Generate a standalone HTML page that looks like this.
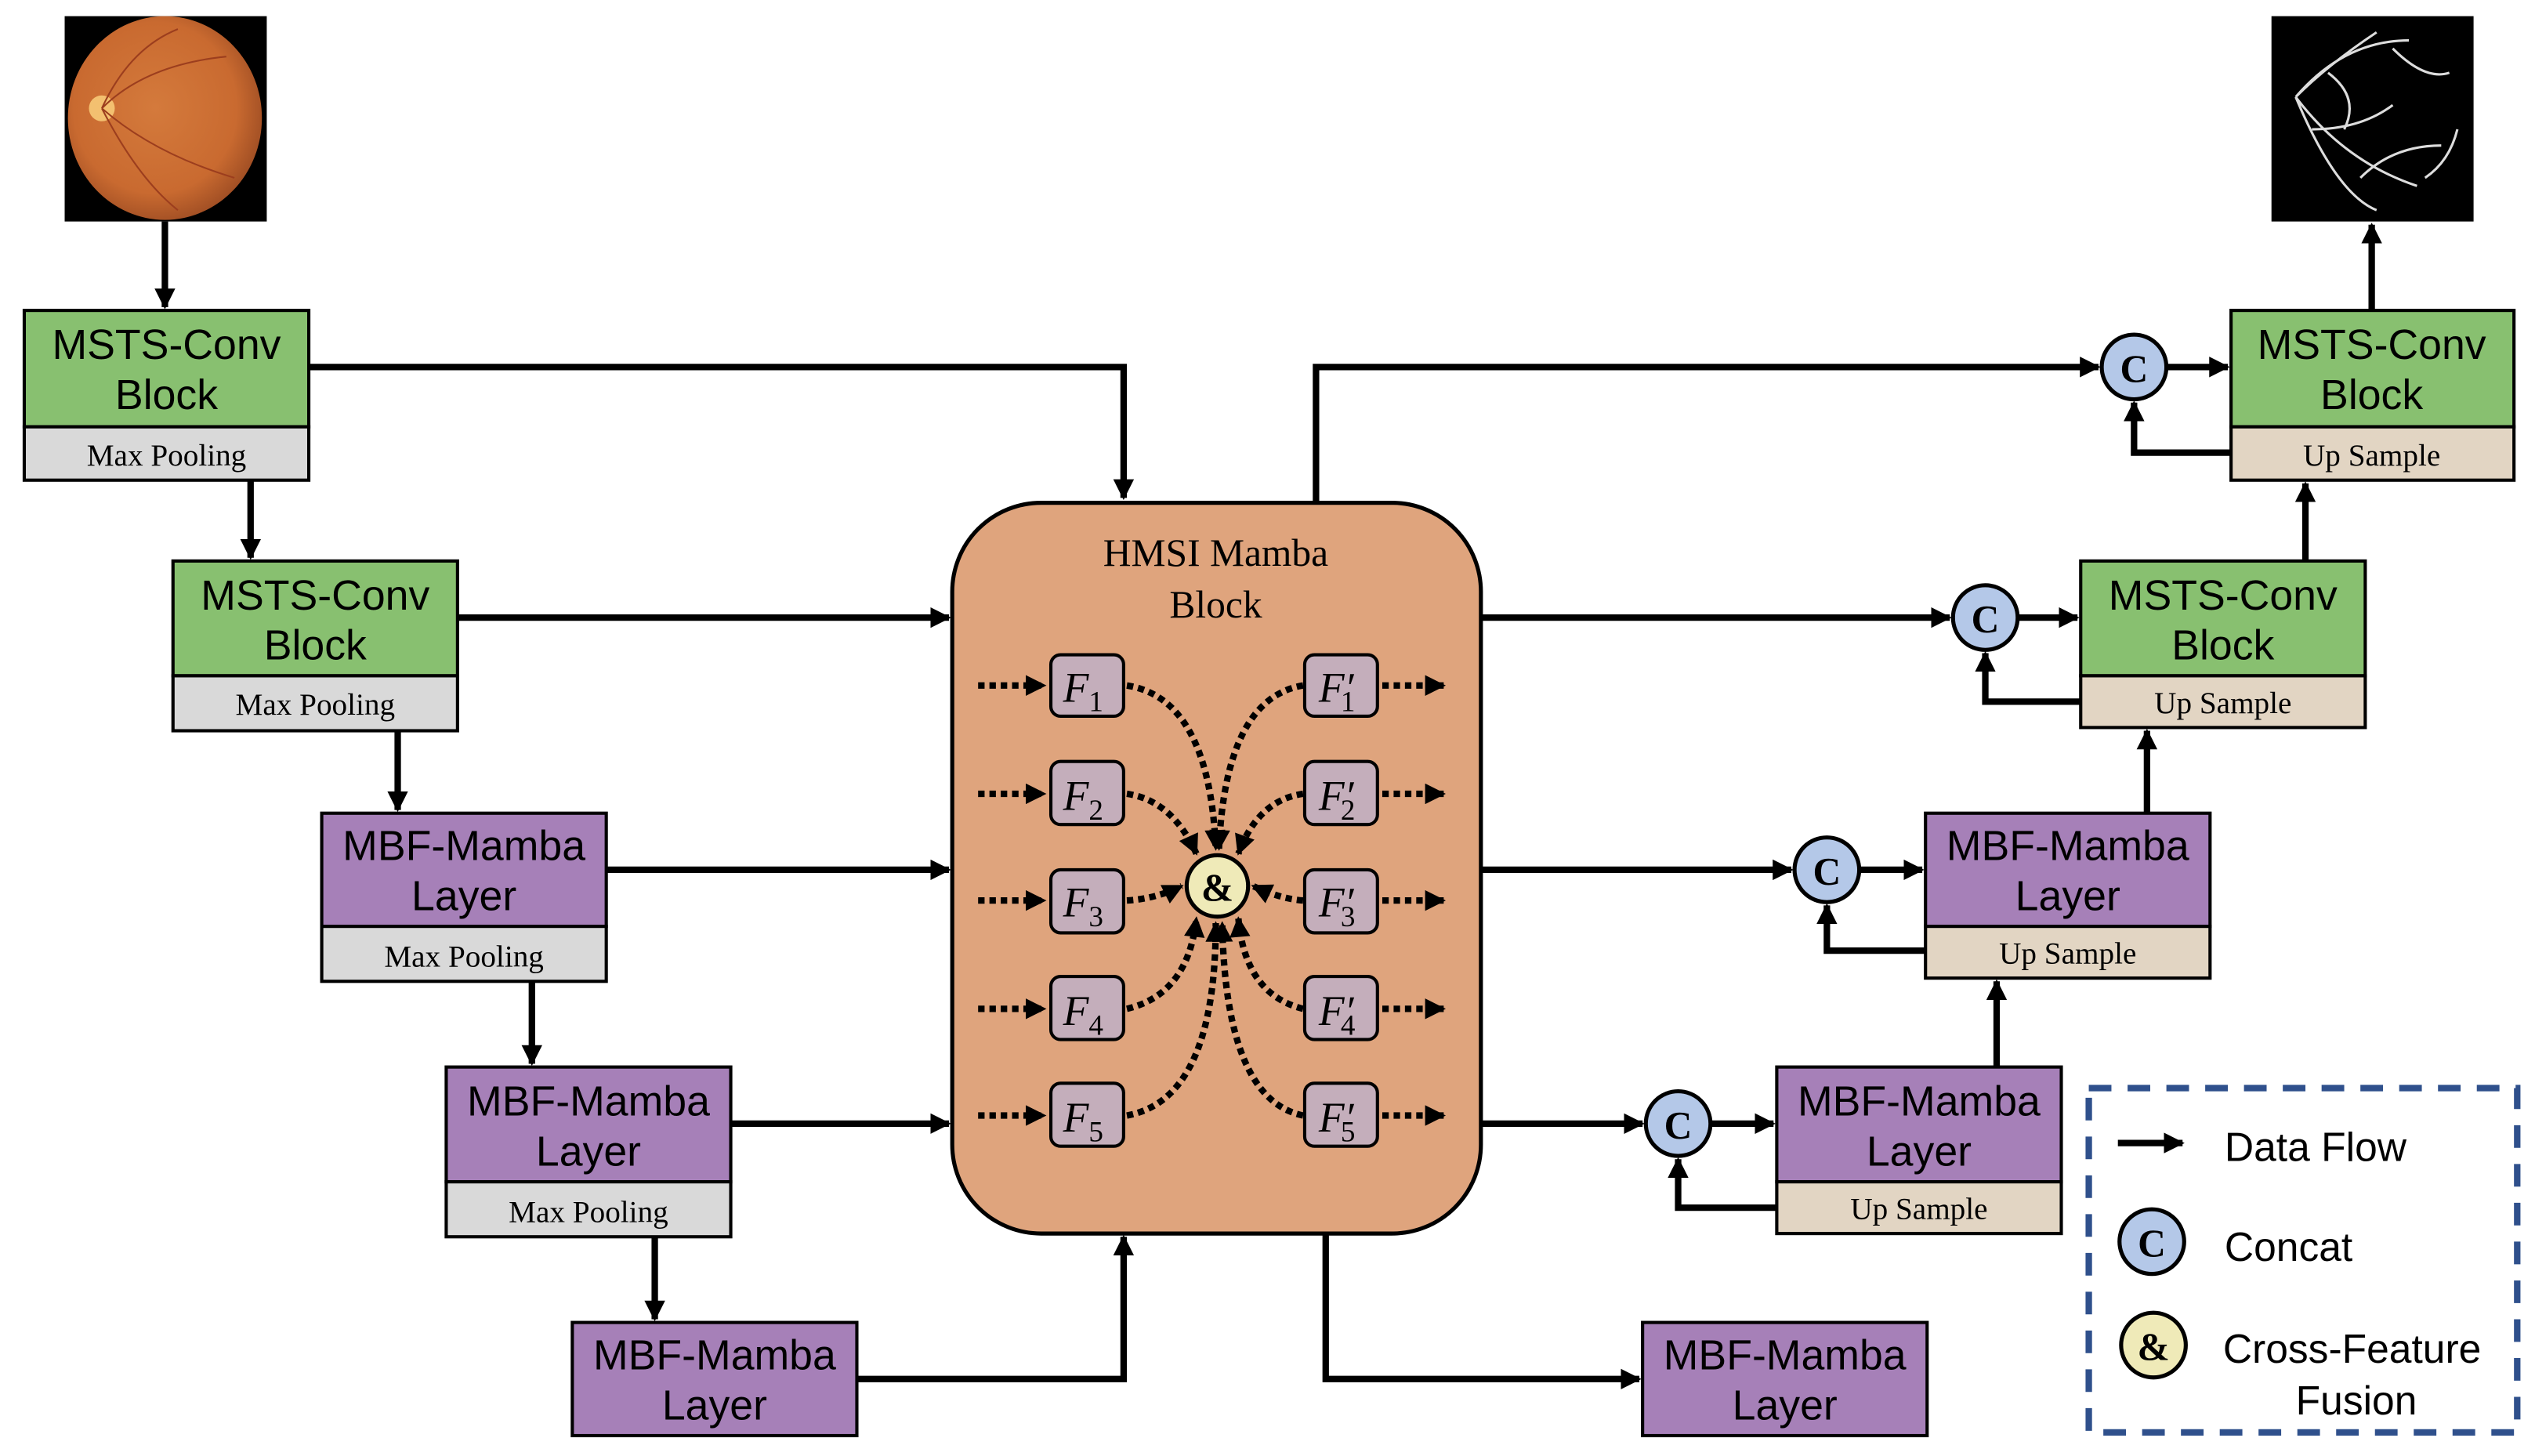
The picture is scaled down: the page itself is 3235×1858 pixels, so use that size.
<!DOCTYPE html>
<html><head><meta charset="utf-8"><style>html,body{margin:0;padding:0;background:#fff}svg{display:block}</style></head>
<body>
<svg width="3235" height="1858" viewBox="0 0 1568 900.6" preserveAspectRatio="none" xmlns="http://www.w3.org/2000/svg">
<defs>
<marker id="a" viewBox="0 0 10 10" refX="9" refY="5" markerWidth="3.2" markerHeight="3.2" orient="auto" markerUnits="strokeWidth"><path d="M0,0L10,5L0,10z" fill="#000"/></marker>
<marker id="d" viewBox="0 0 10 10" refX="9" refY="5" markerWidth="3.6" markerHeight="3.2" orient="auto" markerUnits="strokeWidth"><path d="M0,0L10,5L0,10z" fill="#000"/></marker>
<radialGradient id="eye" cx="0.45" cy="0.45" r="0.6"><stop offset="0" stop-color="#d47a3c"/><stop offset="0.7" stop-color="#c96a30"/><stop offset="1" stop-color="#9a4a22"/></radialGradient>
</defs>
<style>
.t{font-family:"Liberation Sans",sans-serif;font-size:26px;text-anchor:middle}
.s{font-family:"Liberation Serif",serif;font-size:19px;text-anchor:middle}
.b{stroke:#000;stroke-width:2}
.l{stroke:#000;stroke-width:4;fill:none}
.dl{stroke:#000;stroke-width:4;fill:none;stroke-dasharray:4 3}
.f{font-family:"Liberation Serif",serif;font-style:italic;font-size:26px;text-anchor:middle}
</style>
<!-- fundus -->
<rect x="40" y="10" width="125" height="127" fill="#000"/>
<ellipse cx="102" cy="73" rx="60" ry="63" fill="url(#eye)"/>
<circle cx="63" cy="67" r="8" fill="#f3c070"/>
<path d="M63,67 Q90,40 140,35 M63,67 Q95,95 145,110 M63,67 Q80,30 110,18 M63,67 Q85,110 110,130" stroke="#9c3e1e" stroke-width="1" fill="none"/>
<!-- vessel image -->
<rect x="1405" y="10" width="125" height="127" fill="#000"/>
<g stroke="#ddd" stroke-width="1.5" fill="none">
<path d="M1420,60 Q1450,25 1490,25 M1420,60 Q1450,100 1495,115 M1420,60 Q1440,40 1470,20 M1420,60 Q1445,120 1470,130 M1440,45 Q1460,60 1450,80 M1460,110 Q1480,90 1510,90 M1480,30 Q1500,50 1515,45 M1430,80 Q1460,80 1480,65 M1500,110 Q1515,100 1520,80"/>
</g>
<!-- left boxes -->
<rect class="b" x="15" y="192" width="176" height="72" fill="#88c070"/>
<rect class="b" x="15" y="264" width="176" height="33" fill="#d9d9d9"/>
<text class="t" x="103" y="222">MSTS-Conv</text><text class="t" x="103" y="253">Block</text>
<text class="s" x="103" y="288">Max Pooling</text>

<rect class="b" x="107" y="347" width="176" height="71" fill="#88c070"/>
<rect class="b" x="107" y="418" width="176" height="34" fill="#d9d9d9"/>
<text class="t" x="195" y="377">MSTS-Conv</text><text class="t" x="195" y="408">Block</text>
<text class="s" x="195" y="442">Max Pooling</text>

<rect class="b" x="199" y="503" width="176" height="70" fill="#a680b8"/>
<rect class="b" x="199" y="573" width="176" height="34" fill="#d9d9d9"/>
<text class="t" x="287" y="532">MBF-Mamba</text><text class="t" x="287" y="563">Layer</text>
<text class="s" x="287" y="598">Max Pooling</text>

<rect class="b" x="276" y="660" width="176" height="71" fill="#a680b8"/>
<rect class="b" x="276" y="731" width="176" height="34" fill="#d9d9d9"/>
<text class="t" x="364" y="690">MBF-Mamba</text><text class="t" x="364" y="721">Layer</text>
<text class="s" x="364" y="756">Max Pooling</text>

<rect class="b" x="354" y="818" width="176" height="70" fill="#a680b8"/>
<text class="t" x="442" y="847">MBF-Mamba</text><text class="t" x="442" y="878">Layer</text>

<!-- right boxes -->
<rect class="b" x="1380" y="192" width="175" height="72" fill="#88c070"/>
<rect class="b" x="1380" y="264" width="175" height="33" fill="#e2d5c3"/>
<text class="t" x="1467" y="222">MSTS-Conv</text><text class="t" x="1467" y="253">Block</text>
<text class="s" x="1467" y="288">Up Sample</text>

<rect class="b" x="1287" y="347" width="176" height="71" fill="#88c070"/>
<rect class="b" x="1287" y="418" width="176" height="32" fill="#e2d5c3"/>
<text class="t" x="1375" y="377">MSTS-Conv</text><text class="t" x="1375" y="408">Block</text>
<text class="s" x="1375" y="441">Up Sample</text>

<rect class="b" x="1191" y="503" width="176" height="70" fill="#a680b8"/>
<rect class="b" x="1191" y="573" width="176" height="32" fill="#e2d5c3"/>
<text class="t" x="1279" y="532">MBF-Mamba</text><text class="t" x="1279" y="563">Layer</text>
<text class="s" x="1279" y="596">Up Sample</text>

<rect class="b" x="1099" y="660" width="176" height="71" fill="#a680b8"/>
<rect class="b" x="1099" y="731" width="176" height="32" fill="#e2d5c3"/>
<text class="t" x="1187" y="690">MBF-Mamba</text><text class="t" x="1187" y="721">Layer</text>
<text class="s" x="1187" y="754">Up Sample</text>

<rect class="b" x="1016" y="818" width="176" height="70" fill="#a680b8"/>
<text class="t" x="1104" y="847">MBF-Mamba</text><text class="t" x="1104" y="878">Layer</text>

<!-- HMSI -->
<rect x="589" y="311" width="327" height="452" rx="55" fill="#dfa47d" stroke="#000" stroke-width="2.5"/>
<text class="s" x="752" y="350" style="font-size:24px">HMSI Mamba</text>
<text class="s" x="752" y="382" style="font-size:24px">Block</text>

<!-- left arrows -->
<path class="l" d="M102,137V190" marker-end="url(#a)"/>
<path class="l" d="M191,227H695V308" marker-end="url(#a)"/>
<path class="l" d="M155,297V345" marker-end="url(#a)"/>
<path class="l" d="M283,382H587" marker-end="url(#a)"/>
<path class="l" d="M246,452V501" marker-end="url(#a)"/>
<path class="l" d="M375,538H587" marker-end="url(#a)"/>
<path class="l" d="M329,607V658" marker-end="url(#a)"/>
<path class="l" d="M452,695H587" marker-end="url(#a)"/>
<path class="l" d="M405,765V816" marker-end="url(#a)"/>
<path class="l" d="M530,853H695V765" marker-end="url(#a)"/>
<!-- right arrows -->
<path class="l" d="M814,311V227H1298" marker-end="url(#a)"/>
<path class="l" d="M1340,227H1378" marker-end="url(#a)"/>
<path class="l" d="M1380,280H1320V249" marker-end="url(#a)"/>
<path class="l" d="M1467,192V139" marker-end="url(#a)"/>
<path class="l" d="M916,382H1206" marker-end="url(#a)"/>
<path class="l" d="M1248,382H1285" marker-end="url(#a)"/>
<path class="l" d="M1287,434H1228V404" marker-end="url(#a)"/>
<path class="l" d="M1426,347V299" marker-end="url(#a)"/>
<path class="l" d="M916,538H1108" marker-end="url(#a)"/>
<path class="l" d="M1150,538H1189" marker-end="url(#a)"/>
<path class="l" d="M1191,588H1130V560" marker-end="url(#a)"/>
<path class="l" d="M1328,503V452" marker-end="url(#a)"/>
<path class="l" d="M916,695H1016" marker-end="url(#a)"/>
<path class="l" d="M1058,695H1097" marker-end="url(#a)"/>
<path class="l" d="M1099,747H1038V717" marker-end="url(#a)"/>
<path class="l" d="M1235,660V607" marker-end="url(#a)"/>
<path class="l" d="M820,763V853H1014" marker-end="url(#a)"/>

<!-- C circles -->
<g font-family="Liberation Serif,serif" font-weight="bold" font-size="24" text-anchor="middle">
<circle cx="1320" cy="227" r="20" fill="#b4c8e8" stroke="#000" stroke-width="2.5"/><text x="1320" y="236">C</text>
<circle cx="1228" cy="382" r="20" fill="#b4c8e8" stroke="#000" stroke-width="2.5"/><text x="1228" y="391">C</text>
<circle cx="1130" cy="538" r="20" fill="#b4c8e8" stroke="#000" stroke-width="2.5"/><text x="1130" y="547">C</text>
<circle cx="1038" cy="695" r="20" fill="#b4c8e8" stroke="#000" stroke-width="2.5"/><text x="1038" y="704">C</text>
</g>

<!-- F boxes -->
<g>
<path class="dl" d="M605,424H646" marker-end="url(#d)"/><path class="dl" d="M605,491H646" marker-end="url(#d)"/><path class="dl" d="M605,557H646" marker-end="url(#d)"/><path class="dl" d="M605,624H646" marker-end="url(#d)"/><path class="dl" d="M605,690H646" marker-end="url(#d)"/>
<path class="dl" d="M855,424H893" marker-end="url(#d)"/><path class="dl" d="M855,491H893" marker-end="url(#d)"/><path class="dl" d="M855,557H893" marker-end="url(#d)"/><path class="dl" d="M855,624H893" marker-end="url(#d)"/><path class="dl" d="M855,690H893" marker-end="url(#d)"/>
<path class="dl" d="M697,424Q748,432 752,525" marker-end="url(#d)"/>
<path class="dl" d="M697,491Q725,495 740,528" marker-end="url(#d)"/>
<path class="dl" d="M697,557Q715,556 731,548" marker-end="url(#d)"/>
<path class="dl" d="M697,624Q735,615 740,568" marker-end="url(#d)"/>
<path class="dl" d="M697,690Q752,680 752,571" marker-end="url(#d)"/>
<path class="dl" d="M806,424Q758,432 754,525" marker-end="url(#d)"/>
<path class="dl" d="M806,491Q778,495 766,528" marker-end="url(#d)"/>
<path class="dl" d="M806,557Q792,556 775,548" marker-end="url(#d)"/>
<path class="dl" d="M806,624Q770,615 766,568" marker-end="url(#d)"/>
<path class="dl" d="M806,690Q758,680 756,571" marker-end="url(#d)"/>
</g>
<g fill="#c4aebb" stroke="#000" stroke-width="2">
<rect x="650" y="405" width="45" height="38" rx="6"/><rect x="650" y="471" width="45" height="39" rx="6"/><rect x="650" y="538" width="45" height="39" rx="6"/><rect x="650" y="604" width="45" height="39" rx="6"/><rect x="650" y="670" width="45" height="39" rx="6"/>
<rect x="807" y="405" width="45" height="38" rx="6"/><rect x="807" y="471" width="45" height="39" rx="6"/><rect x="807" y="538" width="45" height="39" rx="6"/><rect x="807" y="604" width="45" height="39" rx="6"/><rect x="807" y="670" width="45" height="39" rx="6"/>
</g>
<g class="f">
<text class="f" x="670" y="434">F<tspan font-style="normal" font-size="18" dy="6">1</tspan></text>
<text class="f" x="670" y="501">F<tspan font-style="normal" font-size="18" dy="6">2</tspan></text>
<text class="f" x="670" y="567">F<tspan font-style="normal" font-size="18" dy="6">3</tspan></text>
<text class="f" x="670" y="634">F<tspan font-style="normal" font-size="18" dy="6">4</tspan></text>
<text class="f" x="670" y="700">F<tspan font-style="normal" font-size="18" dy="6">5</tspan></text>
<text class="f" x="827" y="434">F′<tspan font-style="normal" font-size="18" dx="-8" dy="6">1</tspan></text>
<text class="f" x="827" y="501">F′<tspan font-style="normal" font-size="18" dx="-8" dy="6">2</tspan></text>
<text class="f" x="827" y="567">F′<tspan font-style="normal" font-size="18" dx="-8" dy="6">3</tspan></text>
<text class="f" x="827" y="634">F′<tspan font-style="normal" font-size="18" dx="-8" dy="6">4</tspan></text>
<text class="f" x="827" y="700">F′<tspan font-style="normal" font-size="18" dx="-8" dy="6">5</tspan></text>
</g>
<circle cx="753" cy="548" r="19" fill="#efeab8" stroke="#000" stroke-width="2.5"/>
<text x="753" y="557" font-family="Liberation Serif,serif" font-weight="bold" font-size="24" text-anchor="middle">&amp;</text>

<!-- legend -->
<rect x="1292" y="673" width="265" height="213" fill="none" stroke="#2f508c" stroke-width="4" stroke-dasharray="14 10"/>
<path class="l" d="M1310,707H1350" marker-end="url(#a)"/>
<text x="1376" y="718" font-family="Liberation Sans,sans-serif" font-size="25">Data Flow</text>
<circle cx="1331" cy="768" r="20" fill="#b4c8e8" stroke="#000" stroke-width="2.5"/>
<text x="1331" y="777" font-family="Liberation Serif,serif" font-weight="bold" font-size="24" text-anchor="middle">C</text>
<text x="1376" y="780" font-family="Liberation Sans,sans-serif" font-size="25">Concat</text>
<circle cx="1332" cy="832" r="20" fill="#efeab8" stroke="#000" stroke-width="2.5"/>
<text x="1332" y="841" font-family="Liberation Serif,serif" font-weight="bold" font-size="24" text-anchor="middle">&amp;</text>
<text x="1375" y="843" font-family="Liberation Sans,sans-serif" font-size="25">Cross-Feature</text>
<text x="1420" y="875" font-family="Liberation Sans,sans-serif" font-size="25">Fusion</text>
</svg>
</body></html>
